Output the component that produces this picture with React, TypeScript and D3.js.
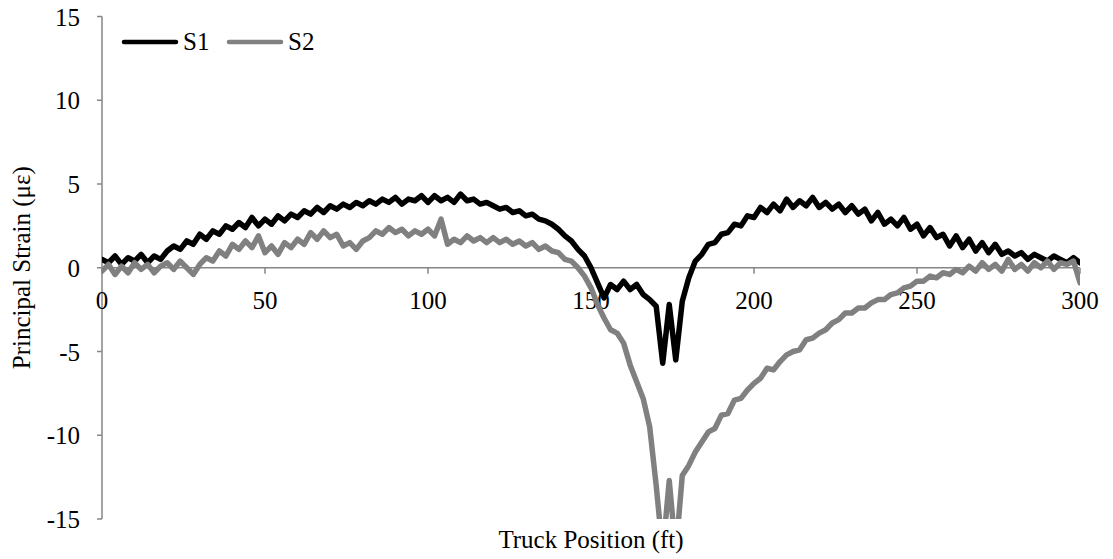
import React from 'react';
import * as d3 from 'd3';

// truck position in ft, sampled every 2 ft
const positions: number[] = d3.range(0, 301, 2);

// S1 principal strain (microstrain)
const s1: number[] = [
  0.5, 0.3, 0.7, 0.2, 0.6, 0.4, 0.8, 0.3, 0.7, 0.5,
  1.0, 1.3, 1.1, 1.6, 1.4, 2.0, 1.7, 2.2, 2.0, 2.5,
  2.3, 2.7, 2.4, 3.0, 2.5, 2.9, 2.6, 3.1, 2.8, 3.2,
  3.0, 3.4, 3.2, 3.6, 3.3, 3.7, 3.5, 3.8, 3.6, 3.9,
  3.7, 4.0, 3.8, 4.1, 3.9, 4.2, 3.8, 4.1, 4.0, 4.3,
  3.9, 4.3, 4.0, 4.2, 3.9, 4.4, 4.0, 4.1, 3.8, 3.9,
  3.7, 3.5, 3.6, 3.3, 3.4, 3.1, 3.2, 2.9, 2.8, 2.6,
  2.3, 1.9, 1.6, 1.1, 0.7, 0.0, -0.9, -1.8, -1.0, -1.3,
  -0.8, -1.3, -1.0, -1.6, -1.9, -2.3, -5.7, -2.2, -5.5, -2.0,
  -0.6, 0.4, 0.8, 1.4, 1.5, 2.0, 2.1, 2.6, 2.5, 3.1,
  3.0, 3.6, 3.3, 3.8, 3.4, 4.1, 3.6, 4.0, 3.7, 4.2,
  3.6, 3.9, 3.5, 3.8, 3.3, 3.7, 3.2, 3.5, 2.8, 3.3,
  2.6, 2.9, 2.5, 3.0, 2.3, 2.6, 1.9, 2.4, 1.8, 2.0,
  1.3, 1.9, 1.2, 1.7, 1.0, 1.5, 0.9, 1.4, 0.8, 1.0,
  0.7, 0.9, 0.5, 0.8, 0.6, 0.4, 0.7, 0.5, 0.3, 0.6,
  0.3,
];

// S2 principal strain (microstrain)
const s2: number[] = [
  -0.2, 0.2, -0.4, 0.1, -0.3, 0.3, -0.1, 0.2, -0.3, 0.1,
  0.3, -0.1, 0.4, 0.0, -0.4, 0.2, 0.6, 0.4, 1.0, 0.7,
  1.4, 1.1, 1.6, 1.2, 1.9, 0.9, 1.3, 0.8, 1.5, 1.2,
  1.7, 1.4, 2.1, 1.7, 2.2, 1.8, 2.0, 1.3, 1.5, 1.1,
  1.6, 1.8, 2.2, 2.0, 2.4, 2.1, 2.3, 1.9, 2.2, 2.0,
  2.3, 1.9, 2.9, 1.4, 1.7, 1.5, 1.9, 1.6, 1.8, 1.5,
  1.8, 1.5, 1.7, 1.4, 1.6, 1.3, 1.5, 1.1, 1.3, 1.0,
  0.9, 0.5, 0.4, 0.0, -0.5, -1.2, -2.2, -3.0, -3.7, -3.9,
  -4.5, -5.8, -6.8, -7.8, -9.5, -13.0, -17.0, -12.7, -17.0, -12.4,
  -11.8, -11.0, -10.4, -9.8, -9.6, -8.8, -8.7, -7.9, -7.8, -7.3,
  -6.9, -6.6, -6.0, -6.1, -5.6, -5.2, -5.0, -4.9, -4.3, -4.2,
  -3.9, -3.7, -3.3, -3.1, -2.7, -2.7, -2.4, -2.4, -2.1, -1.9,
  -1.9, -1.6, -1.5, -1.2, -1.1, -0.8, -0.8, -0.5, -0.6, -0.3,
  -0.4, -0.1, -0.3, 0.1, -0.2, 0.3, -0.1, 0.2, -0.2, 0.5,
  -0.1, 0.2, -0.2, 0.3, 0.0, 0.4, -0.1, 0.3, 0.2, 0.4,
  -0.9,
];

const xTicks = [0, 50, 100, 150, 200, 250, 300];
const yTicks = [15, 10, 5, 0, -5, -10, -15];

const seriesList = [
  { name: 'S1', values: s1, color: '#000000' },
  { name: 'S2', values: s2, color: '#808080' },
];

const W = 1113;
const H = 559;
const left = 102;
const right = 1080;
const top = 16.5;
const bottom = 519;
const font = '"Liberation Serif", "Times New Roman", serif';
const axisColor = '#868686';

export default function App() {
  const x = d3.scaleLinear().domain([0, 300]).range([left, right]);
  const y = d3.scaleLinear().domain([-15, 15]).range([bottom, top]);

  const line = d3
    .line<number>()
    .x((_, i) => x(positions[i]))
    .y((d) => y(d));

  return (
    <svg
      width={W}
      height={H}
      style={{ position: 'absolute', left: 0, top: 0, background: '#fff' }}
      fontFamily={font}
    >
      <defs>
        <clipPath id="plot">
          <rect x={left} y={top} width={right - left} height={bottom - top} />
        </clipPath>
      </defs>

      {/* y axis */}
      <line x1={left} x2={left} y1={top} y2={bottom} stroke={axisColor} strokeWidth={1.5} />
      {yTicks.map((t) => (
        <g key={t}>
          <line x1={left - 5} x2={left} y1={y(t)} y2={y(t)} stroke={axisColor} strokeWidth={1.5} />
          <text x={80} y={y(t) + 9} textAnchor="end" fontSize={25} fill="#000">
            {t}
          </text>
        </g>
      ))}

      {/* x axis at zero */}
      <line x1={left} x2={right} y1={y(0)} y2={y(0)} stroke={axisColor} strokeWidth={1.5} />
      {xTicks.map((t) => (
        <g key={t}>
          <line x1={x(t)} x2={x(t)} y1={y(0)} y2={y(0) + 6} stroke={axisColor} strokeWidth={1.5} />
          <text x={x(t)} y={309} textAnchor="middle" fontSize={25} fill="#000">
            {t}
          </text>
        </g>
      ))}

      <g clipPath="url(#plot)">
        {seriesList.map((s) => (
          <path
            key={s.name}
            d={line(s.values) || ''}
            fill="none"
            stroke={s.color}
            strokeWidth={5.5}
            strokeLinejoin="round"
            strokeLinecap="round"
          />
        ))}
      </g>

      {/* legend */}
      {seriesList.map((s, i) => {
        const lx = 124 + i * 105;
        return (
          <g key={s.name}>
            <line x1={lx} x2={lx + 52} y1={42} y2={42} stroke={s.color} strokeWidth={4.5} strokeLinecap="round" />
            <text x={lx + 59} y={50} fontSize={25} fill="#000">
              {s.name}
            </text>
          </g>
        );
      })}

      <text x={591} y={548} textAnchor="middle" fontSize={25} fill="#000">
        Truck Position (ft)
      </text>
      <text
        transform={`translate(30, ${y(0)}) rotate(-90)`}
        textAnchor="middle"
        fontSize={25}
        fill="#000"
      >
        Principal Strain (με)
      </text>
    </svg>
  );
}
